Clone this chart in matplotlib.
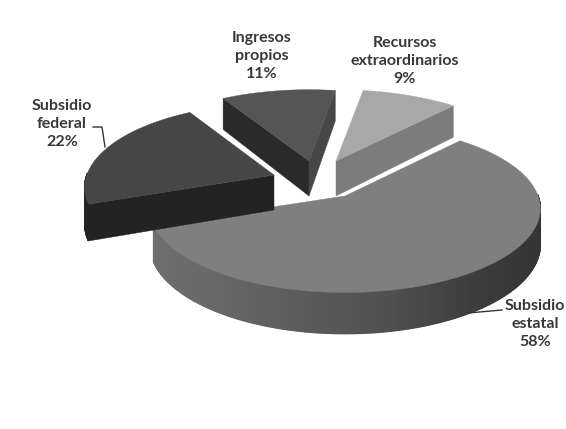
import numpy as np
import matplotlib
matplotlib.use("Agg")
import matplotlib.pyplot as plt
from matplotlib.colors import LinearSegmentedColormap
from matplotlib.patches import Polygon

# Data
categories = ["Subsidio\nestatal", "Subsidio\nfederal", "Ingresos\npropios", "Recursos\nextraordinarios"]
values = [58, 22, 11, 9]

# Layout / style
START_ANGLE = 48.5
RX, RY, PERSP, THICK = 197.0, 82.0, 0.15, 35.0
apexes = [(345, 196), (274, 175), (309, 161), (336, 161)]
rx_scale = [0.98, 0.95, 0.97, 1.0]
top_colors = ["#7f7f7f", "#464646", "#555555", "#a8a8a8"]
start_wall = [None, "#232323", "#2a2a2a", None]        # wall along first radial edge
end_wall = [None, None, "#474747", "#7c7c7c"]          # wall along second radial edge
arc_maps = [
    ["#707070", "#686868", "#5c5c5c", "#4f4f4f", "#3c3c3c", "#333333"],
    ["#242424", "#242424"],
    ["#474747", "#474747"],
    ["#7c7c7c", "#7c7c7c"],
]
label_pos = [(535, 324), (62, 124), (262, 56), (405, 61)]
leaders = [[(502, 310), (468, 313)], [(93, 127), (102, 127), (105, 147)], None, None]
draw_order = [3, 2, 0, 1]


def project(theta, i):
    """Map polar disc coordinates (degrees) to the perspective image plane."""
    t = np.radians(theta)
    u, v = np.cos(t), np.sin(t)
    w = 1 + PERSP * v
    return apexes[i][0] + RX * rx_scale[i] * u / w, apexes[i][1] - RY * v / w, THICK / w


fig = plt.figure(figsize=(5.66, 4.29), dpi=100)
ax = fig.add_axes([0, 0, 1, 1])
ax.set_xlim(0, 566)
ax.set_ylim(429, 0)
ax.axis("off")

fracs = np.array(values, dtype=float) / sum(values)
bounds = START_ANGLE - 360 * np.concatenate([[0], np.cumsum(fracs)])


def draw_slice(i):
    apex = apexes[i]
    a0, a1 = bounds[i], bounds[i + 1]
    n = max(int((a0 - a1) * 2), 4)
    thetas = np.linspace(a0, a1, n + 1)
    xs, ys, ts = project(thetas, i)
    z = 10 + draw_order.index(i) * 10

    # radial walls that face the viewer
    for idx, col in ((0, start_wall[i]), (-1, end_wall[i])):
        if col:
            ax.add_patch(Polygon([apex, (xs[idx], ys[idx]), (xs[idx], ys[idx] + ts[idx]),
                                  (apex[0], apex[1] + THICK)], closed=True, fc=col, ec=col,
                                 lw=0.3, zorder=z))

    # rim, shaded from left to right; only its near side can be seen
    cmap = LinearSegmentedColormap.from_list("rim", arc_maps[i])
    for k in range(n):
        tm = np.radians(0.5 * (thetas[k] + thetas[k + 1]))
        if np.sin(tm) > 0.02:
            continue
        c = cmap(0.5 * (1 + np.cos(tm)))
        ax.add_patch(Polygon([(xs[k], ys[k]), (xs[k + 1], ys[k + 1]),
                              (xs[k + 1], ys[k + 1] + ts[k + 1]), (xs[k], ys[k] + ts[k])],
                             closed=True, fc=c, ec=c, lw=1.0, zorder=z + 1))

    # top surface
    ax.add_patch(Polygon(np.column_stack([np.r_[apex[0], xs], np.r_[apex[1], ys]]),
                         closed=True, fc=top_colors[i], ec=top_colors[i], lw=0.3, zorder=z + 2))


for i in draw_order:
    draw_slice(i)

for i, name in enumerate(categories):
    ax.text(label_pos[i][0], label_pos[i][1], f"{name}\n{values[i]}%", ha="center", va="center",
            family="Lato", fontweight="bold", fontsize=11.5, color="#383838",
            linespacing=1.38, zorder=100)
    if leaders[i]:
        px, py = zip(*leaders[i])
        ax.plot(px, py, color="#333333", lw=1.0, zorder=99)

fig.savefig("out.png", dpi=100, facecolor="white")
